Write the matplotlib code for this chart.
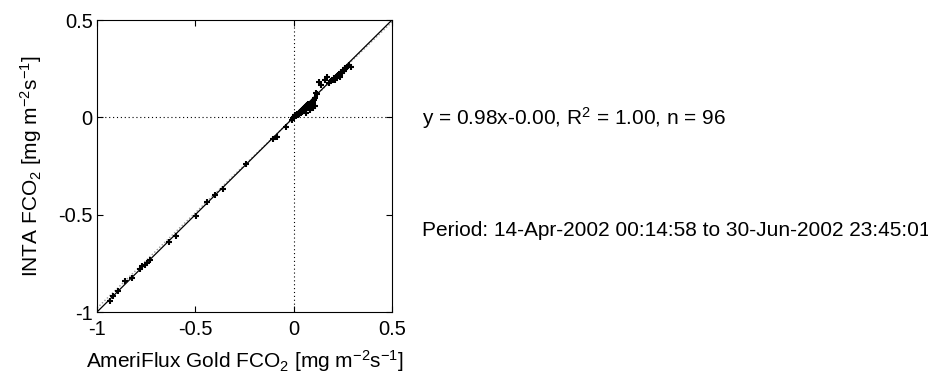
import matplotlib
matplotlib.use("Agg")
import matplotlib.pyplot as plt
import numpy as np

plt.rcParams['font.family'] = ['Liberation Sans', 'DejaVu Sans']
plt.rcParams['mathtext.fontset'] = 'custom'
plt.rcParams['mathtext.rm'] = 'Liberation Sans'
plt.rcParams['mathtext.it'] = 'Liberation Sans'

# AmeriFlux Gold FCO2 (x) and INTA FCO2 (y), mg m-2 s-1
gold = [-0.936, -0.919, -0.893, -0.856, -0.820, -0.783, -0.769, -0.758, -0.746, -0.732,
        -0.634, -0.597, -0.495, -0.439, -0.398, -0.359, -0.241, -0.105, -0.085, -0.041,
        -0.010, -0.004, 0.002, 0.005, 0.008, 0.010, 0.012, 0.015, 0.017, 0.020,
        0.022, 0.025, 0.027, 0.030, 0.031, 0.033, 0.036, 0.038, 0.040, 0.042,
        0.044, 0.046, 0.048, 0.050, 0.052, 0.054, 0.056, 0.058, 0.060, 0.062,
        0.064, 0.066, 0.068, 0.070, 0.073, 0.075, 0.078, 0.081, 0.084, 0.087,
        0.090, 0.093, 0.097, 0.100, 0.102, 0.107, 0.110, 0.115, 0.120, 0.129,
        0.141, 0.158, 0.168, 0.180, 0.190, 0.195, 0.200, 0.205, 0.210, 0.215,
        0.220, 0.226, 0.230, 0.234, 0.238, 0.242, 0.246, 0.250, 0.255, 0.259,
        0.263, 0.267, 0.271, 0.280, 0.293, 0.037]
inta = [-0.942, -0.916, -0.890, -0.843, -0.826, -0.779, -0.766, -0.760, -0.749, -0.731,
        -0.641, -0.608, -0.509, -0.434, -0.398, -0.367, -0.239, -0.112, -0.099, -0.051,
        -0.012, -0.002, 0.004, 0.010, 0.006, 0.012, 0.008, 0.016, 0.012, 0.018,
        0.014, 0.022, 0.018, 0.026, 0.021, 0.028, 0.024, 0.030, 0.036, 0.027,
        0.030, 0.038, 0.034, 0.044, 0.040, 0.048, 0.038, 0.052, 0.046, 0.056,
        0.021, 0.060, 0.050, 0.064, 0.052, 0.068, 0.060, 0.038, 0.070, 0.064,
        0.064, 0.076, 0.080, 0.047, 0.090, 0.059, 0.100, 0.124, 0.120, 0.180,
        0.166, 0.192, 0.209, 0.175, 0.185, 0.190, 0.192, 0.200, 0.190, 0.205,
        0.212, 0.218, 0.210, 0.206, 0.225, 0.235, 0.228, 0.240, 0.236, 0.247,
        0.252, 0.255, 0.260, 0.268, 0.260, 0.034]

slope = 0.98
intercept = 0.00
xlim = [-1, 0.5]
ticks = [-1, -0.5, 0, 0.5]
tick_labels = ['-1', '-0.5', '0', '0.5']

fig = plt.figure(figsize=(9.29, 3.85), dpi=100)
ax = fig.add_axes([97/929, (385-312)/385, 295/929, 292/385])

ax.axhline(0, color='black', linestyle=(0, (1, 2.5)), linewidth=0.8, zorder=1)
ax.axvline(0, color='black', linestyle=(0, (1, 2.5)), linewidth=0.8, zorder=1)

xx = np.array(xlim)
ax.plot(xx, slope * xx + intercept, color='#999999', linestyle=(0, (1, 1.5)), linewidth=1.0, zorder=2)
ax.plot(xx, xx, color='black', linewidth=0.9, zorder=3)
ax.plot(gold, inta, linestyle='none', marker='+', markersize=4, markeredgewidth=1.5,
        color='black', zorder=4)

ax.set_xlim(xlim)
ax.set_ylim(xlim)
ax.set_xticks(ticks)
ax.set_xticklabels(tick_labels)
ax.set_yticks(ticks)
ax.set_yticklabels(tick_labels)
ax.tick_params(direction='in', length=4, width=0.8, top=True, right=True,
               labelsize=14.5)
ax.tick_params(axis='x', pad=6)
ax.tick_params(axis='y', pad=3)
for s in ax.spines.values():
    s.set_linewidth(0.8)

ax.set_xlabel('AmeriFlux Gold FCO$_2$ [mg m$^{-2}$s$^{-1}$]', fontsize=15, labelpad=6)
ax.set_ylabel('INTA FCO$_2$ [mg m$^{-2}$s$^{-1}$]', fontsize=15, labelpad=10)

fig.text(422/929, 1 - 118/385, 'y = 0.98x-0.00, R$^2$ = 1.00, n = 96', fontsize=15,
         va='center', ha='left')
fig.text(422/929, 1 - 231/385, 'Period: 14-Apr-2002 00:14:58 to 30-Jun-2002 23:45:01',
         fontsize=15, va='center', ha='left')

fig.savefig('out.png', dpi=100)
